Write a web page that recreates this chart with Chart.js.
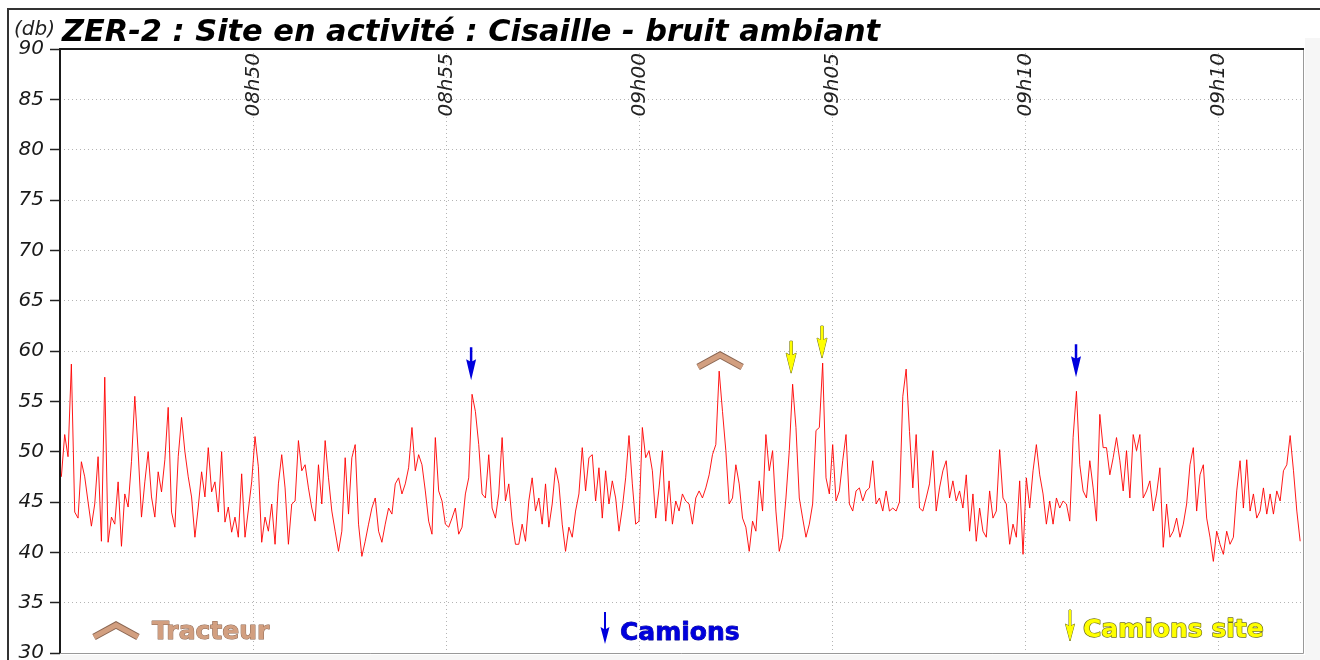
<!DOCTYPE html>
<html>
<head>
<meta charset="utf-8">
<script src="https://cdn.jsdelivr.net/npm/chart.js@4.4.0/dist/chart.umd.min.js"></script>
<style>
  body { margin: 0; background: #fff; }
  canvas { display: block; }
</style>
</head>
<body>
<canvas id="noiseChart" width="1320" height="660"></canvas>
<script>
// Sound level (db), one reading every ~5 s starting just after 08h45
const sampleStartMin = 0.035;
const sampleStepMin = 0.0865;
const noiseLevels = [
    47.5, 51.7, 49.5, 58.7, 44.0, 43.4, 49.0, 47.5, 45.0, 42.6, 44.8, 49.5, 41.1, 57.4, 41.0, 43.5,
    42.8, 47.0, 40.6, 45.8, 44.5, 49.0, 55.5, 50.0, 43.5, 47.0, 50.0, 45.5, 43.5, 48.0, 46.0, 49.2,
    54.4, 44.0, 42.5, 49.5, 53.4, 50.0, 47.5, 45.5, 41.5, 44.5, 48.0, 45.5, 50.4, 46.0, 47.0, 44.0,
    50.0, 43.0, 44.5, 42.0, 43.5, 41.5, 47.8, 41.5, 44.2, 47.0, 51.5, 48.5, 41.0,
    43.5, 42.1, 44.8, 40.8, 46.8, 49.7, 46.4, 40.8, 44.8, 45.1, 51.1, 48.1, 48.7, 46.4, 44.4, 43.1,
    48.7, 44.8, 51.1, 47.4, 44.1, 42.1, 40.1, 42.1, 49.4, 43.8, 49.4, 50.7, 42.8, 39.6, 41.1, 42.8,
    44.4, 45.4, 42.1, 41.0, 42.8, 44.4, 43.8, 46.8, 47.4, 45.8, 46.8, 48.4, 52.4, 48.1, 49.7, 48.7,
    46.1, 43.1, 41.8, 51.4, 46.1, 45.1, 42.8, 42.5, 43.4, 44.4, 41.8, 42.5, 45.8, 47.4,
    55.7, 54.0, 50.7, 45.8, 45.4, 49.7, 44.4, 43.4, 45.8, 51.4, 45.1, 46.8, 43.1, 40.8, 40.8, 42.8,
    41.1, 45.1, 47.4, 44.1, 45.4, 42.8, 46.8, 42.5, 44.8, 48.4, 46.8, 42.8, 40.1, 42.5, 41.5, 44.1,
    45.8, 50.4, 46.1, 49.4, 49.7, 45.1, 48.4, 43.4, 48.1, 44.8, 47.1, 45.4, 42.1, 44.4, 47.4, 51.6,
    46.8, 42.8, 43.1, 52.4, 49.4, 50.1, 48.1, 43.4, 46.4, 50.1, 43.1, 47.1, 42.8, 45.1,
    44.1, 45.8, 45.1, 44.8, 42.8, 45.4, 46.1, 45.4, 46.4, 47.7, 49.7, 50.7, 58.0, 54.0, 50.1, 44.8,
    45.4, 48.7, 46.8, 43.4, 42.5, 40.1, 43.1, 42.1, 47.1, 44.1, 51.7, 48.1, 50.1, 44.1, 40.1, 41.5,
    45.4, 50.1, 56.7, 52.4, 45.4, 43.4, 41.5, 42.8, 44.8, 52.1, 52.4, 58.8, 47.4, 45.8, 50.7, 45.1,
    46.1, 49.1, 51.7, 44.8, 44.1, 46.1, 46.4, 45.1, 46.1, 46.4, 49.1, 44.8, 45.4, 44.1,
    46.1, 44.1, 44.4, 44.1, 45.0, 55.5, 58.2, 52.0, 46.4, 51.7, 44.4, 44.1, 45.4, 46.8, 50.1, 44.1,
    46.4, 48.1, 49.1, 45.4, 47.1, 45.1, 46.1, 44.4, 47.7, 42.1, 45.8, 41.1, 44.4, 42.1, 41.5, 46.1,
    43.4, 44.1, 50.2, 45.4, 44.8, 40.8, 42.8, 41.5, 47.1, 39.8, 47.4, 44.4, 48.1, 50.7, 47.7, 45.8,
    42.8, 45.1, 42.8, 45.4, 44.4, 45.1, 44.8, 43.1, 51.4, 56.0, 48.7, 46.1, 45.4, 49.1,
    46.4, 43.1, 53.7, 50.4, 50.4, 47.7, 49.4, 51.4, 49.1, 46.1, 50.1, 45.4, 51.7, 50.1, 51.7, 45.4,
    46.1, 47.1, 44.1, 45.8, 48.4, 40.5, 44.8, 41.5, 42.1, 43.4, 41.5, 42.8, 44.8, 48.7, 50.4, 44.1,
    47.7, 48.7, 43.4, 41.5, 39.1, 42.1, 40.8, 39.8, 42.1, 40.8, 41.5, 46.1, 49.1, 44.4, 49.2, 44.1,
    45.8, 43.4, 44.1, 46.4, 43.8, 45.8, 43.8, 46.1, 45.1, 48.1, 48.7, 51.6, 48.1, 44.1, 41.1
];

// x axis: minutes after 08h45
const xTickValues = [5, 10, 15, 20, 25, 30];
const xTickLabels = ['08h50', '08h55', '09h00', '09h05', '09h10', '09h10'];
const yTickValues = [30, 35, 40, 45, 50, 55, 60, 65, 70, 75, 80, 85, 90];

// event markers: time (min) and level where the marker points
const camionTimes = [10.65, 26.32];
const camionTips = [57.1, 57.4];
const camionSiteTimes = [18.94, 19.74];
const camionSiteTips = [57.8, 59.3];
const tracteurTimes = [17.1];
const tracteurTops = [59.6];

const legendLabels = ['Tracteur', 'Camions', 'Camions site'];
const chartTitle = 'ZER-2 : Site en activité : Cisaille - bruit ambiant';
const unitLabel = '(db)';

const FONT = '"DejaVu Sans", Verdana, sans-serif';
const TAN = '#d29f80';
const TAN_DARK = '#8a6652';
const BLUE = '#0000dd';
const YELLOW = '#ffff00';
const YELLOW_DARK = '#707020';

function drawArrow(ctx, x, tipY, len, headLen, headW, shaftW, fill, outline) {
    ctx.beginPath();
    ctx.moveTo(x - shaftW / 2, tipY - len);
    ctx.lineTo(x + shaftW / 2, tipY - len);
    ctx.lineTo(x + shaftW / 2, tipY - headLen);
    ctx.lineTo(x + headW / 2, tipY - headLen - 2);
    ctx.lineTo(x, tipY);
    ctx.lineTo(x - headW / 2, tipY - headLen - 2);
    ctx.lineTo(x - shaftW / 2, tipY - headLen);
    ctx.closePath();
    if (outline) {
        ctx.strokeStyle = outline;
        ctx.lineWidth = 1;
        ctx.stroke();
    }
    ctx.fillStyle = fill;
    ctx.fill();
}

function drawChevron(ctx, cx, apexY, halfW, drop, width) {
    ctx.beginPath();
    ctx.moveTo(cx - halfW, apexY + drop);
    ctx.lineTo(cx, apexY);
    ctx.lineTo(cx + halfW, apexY + drop);
    ctx.lineJoin = 'miter';
    ctx.lineCap = 'butt';
    ctx.strokeStyle = TAN_DARK;
    ctx.lineWidth = width + 2;
    ctx.stroke();
    ctx.strokeStyle = TAN;
    ctx.lineWidth = width;
    ctx.stroke();
}

function outlinedText(ctx, text, x, y, fill, outline, w) {
    ctx.lineJoin = 'round';
    ctx.strokeStyle = outline;
    ctx.lineWidth = w;
    ctx.strokeText(text, x, y);
    ctx.fillStyle = fill;
    ctx.fillText(text, x, y);
}

const decorations = {
    id: 'decorations',
    beforeDraw(chart) {
        const ctx = chart.ctx;
        ctx.save();
        ctx.fillStyle = '#fff';
        ctx.fillRect(0, 0, chart.width, chart.height);
        ctx.fillStyle = '#f6f6f6';
        ctx.fillRect(1305, 38, 15, 622);
        ctx.fillRect(60, 655, 1260, 5);
        ctx.restore();
    },
    afterDraw(chart) {
        const ctx = chart.ctx;
        const area = chart.chartArea;
        const xs = chart.scales.x;
        const ys = chart.scales.y;
        ctx.save();

        // outer frame
        ctx.strokeStyle = '#333';
        ctx.lineWidth = 2;
        ctx.beginPath();
        ctx.moveTo(8, 662);
        ctx.lineTo(8, 9);
        ctx.lineTo(1322, 9);
        ctx.stroke();

        // plot frame
        ctx.strokeStyle = '#999';
        ctx.lineWidth = 1;
        ctx.beginPath();
        ctx.moveTo(area.left, area.bottom + 0.5);
        ctx.lineTo(area.right + 0.5, area.bottom + 0.5);
        ctx.lineTo(area.right + 0.5, area.top);
        ctx.stroke();
        ctx.strokeStyle = '#1a1a1a';
        ctx.lineWidth = 2;
        ctx.beginPath();
        ctx.moveTo(area.left, area.bottom);
        ctx.lineTo(area.left, area.top);
        ctx.lineTo(area.right + 1, area.top);
        ctx.stroke();

        // title
        ctx.fillStyle = '#222';
        ctx.textBaseline = 'alphabetic';
        ctx.textAlign = 'left';
        ctx.font = 'italic 20px ' + FONT;
        ctx.fillText(unitLabel, 14, 35);
        ctx.font = 'italic bold 28px ' + FONT;
        let size = 28 * 818 / ctx.measureText(chartTitle).width;
        size = Math.max(24, Math.min(31, size));
        ctx.font = 'italic bold ' + size.toFixed(1) + 'px ' + FONT;
        ctx.fillStyle = '#000';
        ctx.fillText(chartTitle, 62, 41);

        // rotated time labels inside the plot
        ctx.font = 'italic 20px ' + FONT;
        ctx.fillStyle = '#222';
        ctx.textAlign = 'right';
        ctx.textBaseline = 'middle';
        xTickValues.forEach((v, i) => {
            const px = xs.getPixelForValue(v);
            ctx.save();
            ctx.translate(px + 1, area.top + 4);
            ctx.rotate(-Math.PI / 2);
            ctx.fillText(xTickLabels[i], 0, 0);
            ctx.restore();
        });

        // event markers
        camionTimes.forEach((t, i) => {
            drawArrow(ctx, xs.getPixelForValue(t), ys.getPixelForValue(camionTips[i]), 33, 19, 10, 2.5, BLUE, null);
        });
        camionSiteTimes.forEach((t, i) => {
            drawArrow(ctx, xs.getPixelForValue(t), ys.getPixelForValue(camionSiteTips[i]), 32, 18, 10, 2.5, YELLOW, YELLOW_DARK);
        });
        tracteurTimes.forEach((t, i) => {
            drawChevron(ctx, xs.getPixelForValue(t), ys.getPixelForValue(tracteurTops[i]), 22, 12, 5);
        });

        // legend
        ctx.font = 'bold 25px ' + FONT;
        ctx.textAlign = 'left';
        ctx.textBaseline = 'alphabetic';
        drawChevron(ctx, 116, 625, 22, 12, 5);
        outlinedText(ctx, legendLabels[0], 152, 639, TAN, TAN_DARK, 1);
        drawArrow(ctx, 605, 644, 32, 15, 9, 2, BLUE, null);
        outlinedText(ctx, legendLabels[1], 620, 640, BLUE, '#00008a', 0.8);
        drawArrow(ctx, 1070, 641, 31, 15, 9, 2, YELLOW, YELLOW_DARK);
        outlinedText(ctx, legendLabels[2], 1083, 637, YELLOW, YELLOW_DARK, 1.4);

        ctx.restore();
    }
};

const points = noiseLevels.map((v, i) => ({ x: sampleStartMin + i * sampleStepMin, y: v }));

const ctx = document.getElementById('noiseChart').getContext('2d');
const noiseChart = new Chart(ctx, {
    type: 'line',
    data: {
        datasets: [{
            label: 'Niveau sonore',
            data: points,
            borderColor: 'rgba(255, 0, 0, 0.9)',
            borderWidth: 1,
            pointRadius: 0,
            tension: 0,
            fill: false
        }]
    },
    options: {
        responsive: false,
        animation: false,
        layout: { padding: { top: 49, left: 0, right: 17, bottom: 7 } },
        plugins: {
            legend: { display: false },
            title: { display: false },
            tooltip: { enabled: false }
        },
        scales: {
            x: {
                type: 'linear',
                min: 0,
                max: 32.2,
                afterBuildTicks: (axis) => { axis.ticks = xTickValues.map(v => ({ value: v })); },
                afterFit: (axis) => {
                    axis.height = 0;
                    axis.paddingLeft = 0; axis.paddingRight = 0;
                },
                ticks: { display: false },
                grid: { color: '#b4b4b4', lineWidth: 1, drawTicks: false },
                border: { display: false, dash: [1, 3] }
            },
            y: {
                min: 30,
                max: 90,
                afterBuildTicks: (axis) => { axis.ticks = yTickValues.map(v => ({ value: v })); },
                afterFit: (axis) => {
                    axis.width = 60;
                    axis.paddingTop = 0; axis.paddingBottom = 0;
                },
                ticks: {
                    color: '#1a1a1a',
                    padding: 6,
                    font: { family: FONT, size: 20, style: 'italic' }
                },
                grid: {
                    color: '#b4b4b4',
                    lineWidth: 1,
                    tickLength: 10,
                    tickColor: '#222',
                    tickWidth: 1.5,
                    tickBorderDash: []
                },
                border: { display: false, dash: [1, 3] }
            }
        }
    },
    plugins: [decorations]
});
</script>
</body>
</html>
